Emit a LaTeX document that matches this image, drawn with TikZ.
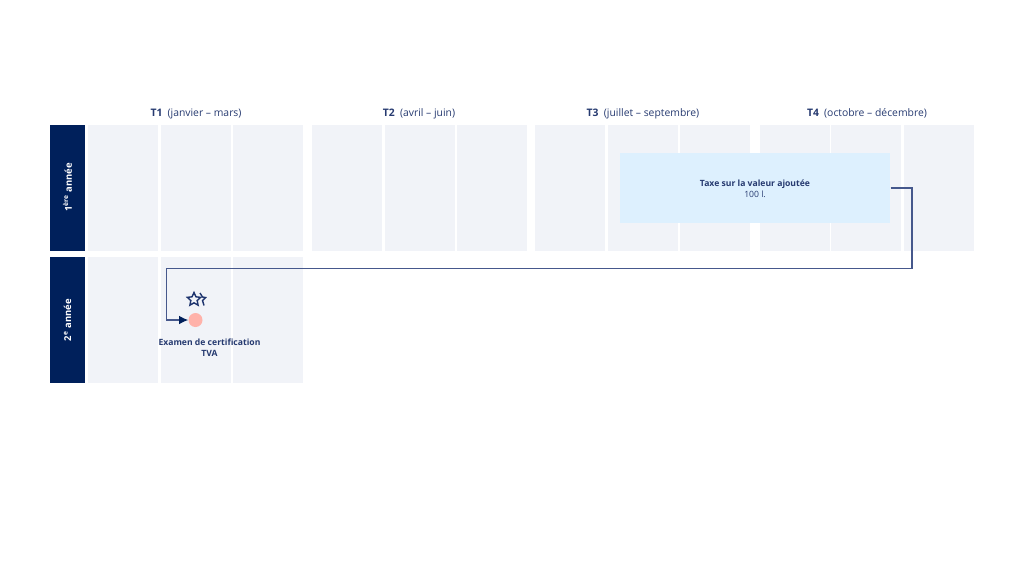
\documentclass[tikz,border=0pt]{standalone}
\usepackage{fontspec}
\setmainfont{Open Sans}
\usetikzlibrary{
    arrows.meta,
    positioning,
    shapes.geometric,
    calc
}

\begin{document}
\begin{tikzpicture}[x=0.02cm, y=-0.02cm]
% Define palette
\definecolor{tvanavy}{RGB}{0, 32, 91}
\definecolor{tvatext}{RGB}{38, 58, 112}
\definecolor{tvacell}{RGB}{241, 243, 248}
\definecolor{tvablue}{RGB}{221, 240, 254}
\definecolor{tvapink}{RGB}{255, 178, 170}
\definecolor{tvaline}{RGB}{70, 88, 140}
\definecolor{tvastar}{RGB}{30, 52, 110}

\tikzset{
    cell/.style={fill=tvacell, anchor=north west, inner sep=0pt, minimum width=1.4cm, minimum height=2.52cm},
    yearbox/.style={fill=tvanavy, anchor=north west, inner sep=0pt, minimum width=0.71cm, minimum height=2.52cm},
    yearlabel/.style={rotate=90, text=white, font=\fontsize{5.4}{7}\selectfont\bfseries},
    header/.style={text=tvatext, font=\fontsize{5.9}{7}\selectfont},
    note/.style={text=tvatext, align=center, font=\fontsize{4.9}{6.2}\selectfont}
}

\useasboundingbox (0,0) rectangle (1024,576);

% Month cells, first year
\foreach \n/\x in {
    1/88, 2/161, 3/233,
    4/312, 5/385, 6/457,
    7/535, 8/608, 9/680,
    10/760, 11/831, 12/904
} {
    \node[cell] (cell\n) at (\x,125) {};
}

% Month cells, second year
\foreach \n/\x in {1/88, 2/161, 3/233} {
    \node[cell] (next\n) at (\x,257) {};
}

% Years
\node[yearbox] (year1) at (49.5,125) {};
\node[yearbox] (year2) at (49.5,257) {};
\node[yearlabel] (year1txt) at (67.5,187.5) {1\textsuperscript{ère} année};
\node[yearlabel] (year2txt) at (67.5,320) {2\textsuperscript{e} année};

% Quarters
\foreach \q/\x/\m in {
    1/196/janvier – mars,
    2/419/avril – juin,
    3/643/juillet – septembre,
    4/867/octobre – décembre%
} {
    \node[header] (quarter\q) at (\x,113.5) {\textbf{T\q}\enspace(\m)};
}

% Course and exam
\node[fill=tvablue, anchor=north west, inner sep=0pt, minimum width=5.4cm, minimum height=1.39cm] (tax) at (620,153) {};
\node[note] (taxtxt) at (755,188.5) {\textbf{Taxe sur la valeur ajoutée}\\100 l.};
\node[circle, fill=tvapink, inner sep=0pt, minimum size=0.28cm] (exam) at (195.5,320) {};
\node[note, font=\fontsize{4.9}{6.4}\selectfont\bfseries] (examtxt) at (209.5,347.5) {Examen de certification\\TVA};
\node[star, star points=5, star point ratio=2.1, draw=tvastar, line width=0.8pt, inner sep=0pt, minimum size=0.28cm] (icon) at (194,299.5) {};
\draw[tvastar, line width=0.8pt] (200,293) -- (202.5,297) -- (205.5,297.5) -- (202.5,300.5) -- (204,305.5);

% Connector
\coordinate (turn1) at (912,188);
\coordinate (turn2) at (912,268.5);
\coordinate (turn3) at (166.5,268.5);
\coordinate (turn4) at (166.5,320);
\draw[tvaline, line width=0.6pt, -{Latex[length=0.18cm, width=0.17cm, color=tvanavy]}]
    (tax.east |- turn1) -- (turn1) -- (turn2) -- (turn3) -- (turn4) -- (exam.west);
\end{tikzpicture}
\end{document}
